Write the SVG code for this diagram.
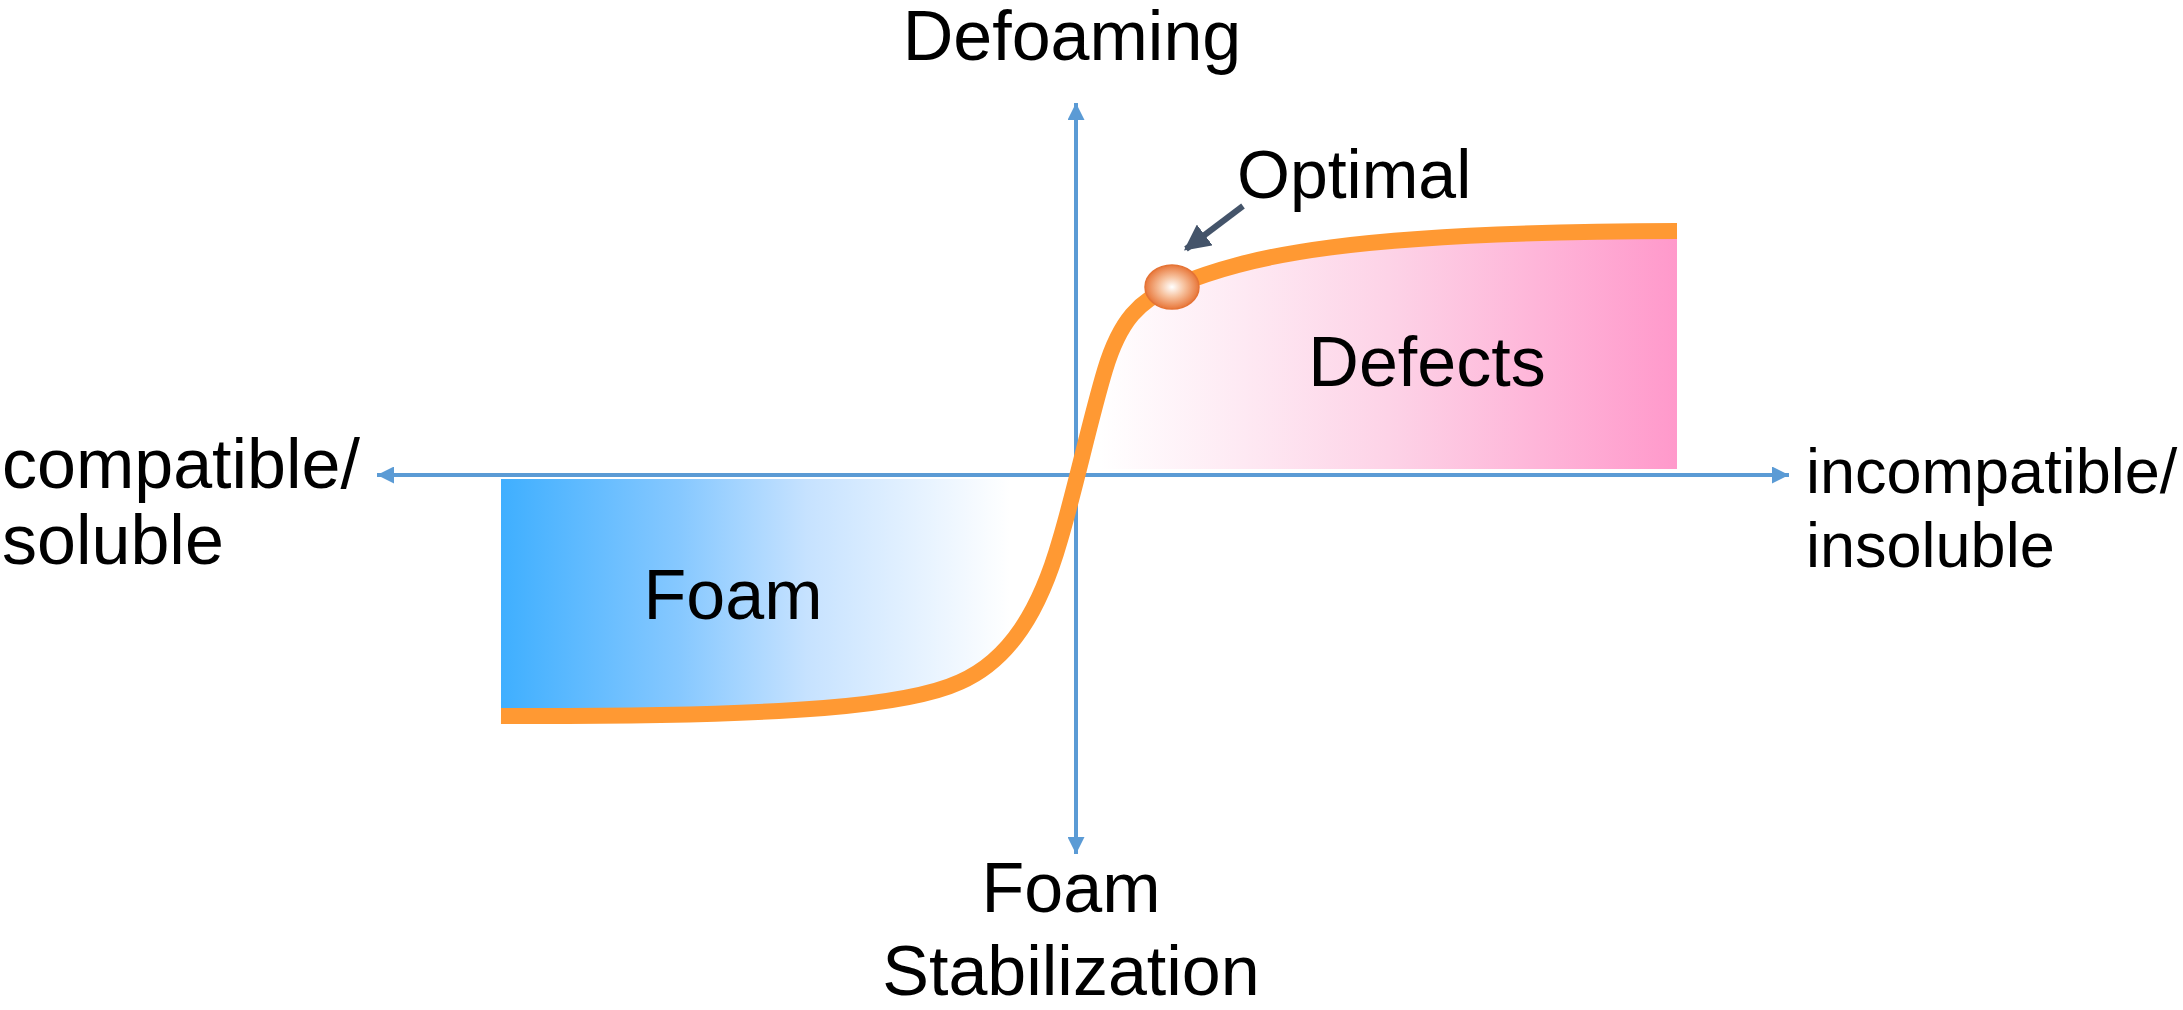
<svg xmlns="http://www.w3.org/2000/svg" width="2183" height="1010" viewBox="0 0 2183 1010">
<style>
text{font-family:"Liberation Sans",Arial,sans-serif;font-size:70px;fill:#000}
text.s68{font-size:68px}
text.s63{font-size:63px}
.axis{stroke:#5B9BD5;stroke-width:4;fill:none}
.curve{stroke:#FF9933;stroke-width:16;fill:none;stroke-linecap:butt}
</style>
<defs>
<marker id="ah" viewBox="0 0 10 10" refX="10" refY="5" markerWidth="17" markerHeight="17" markerUnits="userSpaceOnUse" orient="auto-start-reverse">
<path d="M0,0 L10,5 L0,10 z" fill="#5B9BD5"/>
</marker>
<marker id="ah2" viewBox="0 0 10 10" refX="9" refY="5" markerWidth="26" markerHeight="26" markerUnits="userSpaceOnUse" orient="auto">
<path d="M0,0 L10,5 L0,10 z" fill="#44546A"/>
</marker>
<linearGradient id="gBlue" gradientUnits="userSpaceOnUse" x1="501" y1="0" x2="1010" y2="0">
<stop offset="0" stop-color="#3FAFFF"/>
<stop offset="0.35" stop-color="#86C8FF"/>
<stop offset="0.6" stop-color="#C6E2FF"/>
<stop offset="1" stop-color="#FFFFFF"/>
</linearGradient>
<linearGradient id="gPink" gradientUnits="userSpaceOnUse" x1="1100" y1="0" x2="1677" y2="0">
<stop offset="0" stop-color="#FFFFFF"/>
<stop offset="0.5" stop-color="#FDD3E7"/>
<stop offset="1" stop-color="#FF99CB"/>
</linearGradient>
<radialGradient id="gDot" cx="0.5" cy="0.5" r="0.5">
<stop offset="0" stop-color="#FFFFFF"/>
<stop offset="0.45" stop-color="#F7C3A0"/>
<stop offset="1" stop-color="#E8773A"/>
</radialGradient>
</defs>
<rect width="2183" height="1010" fill="#FFFFFF"/>
<g id="foam-region">
<path d="M501,716 C800,717 910,705 960,682 C1010,660 1040,610 1060,540 C1068,513 1075,494 1080,479 H501 Z" fill="url(#gBlue)"/>
</g>
<g id="defects-region">
<path d="M1082,469 C1093,428 1098,395 1105,370 C1120,320 1140,300 1172,287 C1250,255 1350,232 1677,231 V469 Z" fill="url(#gPink)"/>
</g>
<g id="connectors">
<line class="axis" x1="1789" y1="475" x2="377" y2="475" marker-start="url(#ah)" marker-end="url(#ah)"/>
<line class="axis" x1="1076" y1="854" x2="1076" y2="103" marker-start="url(#ah)" marker-end="url(#ah)"/>
<line x1="1243" y1="206" x2="1186" y2="249" stroke="#44546A" stroke-width="6" marker-end="url(#ah2)"/>
</g>
<g id="curve">
<path class="curve" d="M501,716 C800,717 910,705 960,682 C1010,660 1040,610 1060,540 C1075,490 1090,420 1105,370 C1120,320 1140,300 1172,287 C1250,255 1350,232 1677,231"/>
</g>
<g id="optimal-point">
<ellipse cx="1172" cy="287" rx="27" ry="22" fill="url(#gDot)" stroke="#E57335" stroke-width="1.5"/>
</g>
<g id="label-defoaming"><text x="1072" y="60" text-anchor="middle">Defoaming</text></g>
<g id="label-optimal"><text class="s68" x="1237" y="198">Optimal</text></g>
<g id="label-defects"><text x="1427" y="386" text-anchor="middle">Defects</text></g>
<g id="label-foam"><text x="733" y="619" text-anchor="middle">Foam</text></g>
<g id="label-left"><text x="2" y="488">compatible/</text><text x="2" y="564">soluble</text></g>
<g id="label-right"><text class="s63" x="1806" y="493">incompatible/</text><text class="s63" x="1806" y="567">insoluble</text></g>
<g id="label-bottom"><text x="1071" y="912" text-anchor="middle">Foam</text><text x="1071" y="995" text-anchor="middle">Stabilization</text></g>
</svg>
